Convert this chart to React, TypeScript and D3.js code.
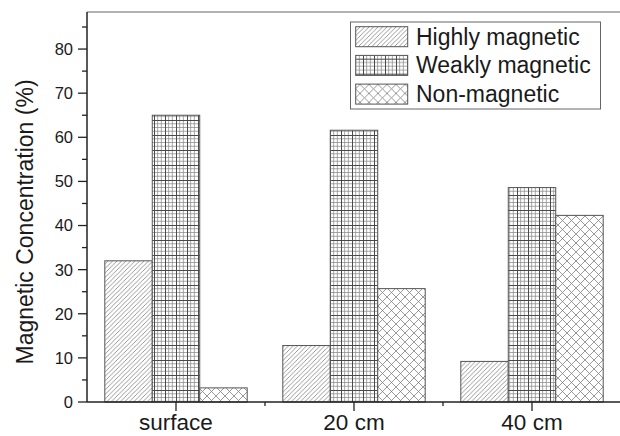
import React from "react";
import * as d3 from "d3";

const categories = ["surface", "20 cm", "40 cm"];
const seriesNames = ["Highly magnetic", "Weakly magnetic", "Non-magnetic"];
const highly = [32, 12.8, 9.2];
const weakly = [65, 61.6, 48.6];
const nonMag = [3.2, 25.7, 42.3];
const yTicks = [0, 10, 20, 30, 40, 50, 60, 70, 80];
const yMinorTicks = [5, 15, 25, 35, 45, 55, 65, 75, 85];
const patternIds = ["hatch", "grid", "cross"];

const W = 620;
const H = 436;
const FONT = "'Liberation Sans', Arial, Helvetica, sans-serif";

export default function App() {
  const left = 87;
  const right = 621;
  const top = 12;
  const bottom = 402;
  const x = d3.scaleBand<string>().domain(categories).range([left, right]).paddingInner(0.2).paddingOuter(0.1);
  const inner = d3.scaleBand<string>().domain(seriesNames).range([0, x.bandwidth()]).padding(0);
  const y = d3.scaleLinear().domain([0, 88.4]).range([bottom, top]);
  const series = [highly, weakly, nonMag];
  const step = x.step();

  return (
    <svg width={W} height={H} style={{ position: "absolute", left: 0, top: 0, background: "#fff" }} fontFamily={FONT}>
      <defs>
        <pattern id="hatch" patternUnits="userSpaceOnUse" width={4.5} height={4.5}>
          <rect width={4.5} height={4.5} fill="#fff" />
          <path d="M-1,1 L1,-1 M0,4.5 L4.5,0 M3.5,5.5 L5.5,3.5" stroke="#808080" strokeWidth={0.8} />
        </pattern>
        <pattern id="grid" patternUnits="userSpaceOnUse" width={11} height={15}>
          <rect width={11} height={15} fill="#fff" />
          <path d="M3.67,0 V15 M7.33,0 V15 M0,3.75 H11 M0,7.5 H11 M0,11.25 H11" stroke="#8a8a8a" strokeWidth={0.75} />
          <path d="M0.5,0 V15 M0,0.5 H11" stroke="#4a4a4a" strokeWidth={1} />
        </pattern>
        <pattern id="cross" patternUnits="userSpaceOnUse" width={9} height={9}>
          <rect width={9} height={9} fill="#fff" />
          <path d="M0,0 L9,9 M0,9 L9,0" stroke="#808080" strokeWidth={0.8} />
        </pattern>
      </defs>

      {/* top frame */}
      <line x1={left} x2={W} y1={top} y2={top} stroke="#666" strokeWidth={1.2} />

      {/* bars */}
      {categories.map((c, ci) => (
        <g key={c}>
          {seriesNames.map((s, si) => {
            const v = series[si][ci];
            const bx = (x(c) as number) + (inner(s) as number);
            return (
              <rect
                key={s}
                x={bx}
                y={y(v)}
                width={inner.bandwidth()}
                height={y(0) - y(v)}
                fill={`url(#${patternIds[si]})`}
                stroke="#555"
                strokeWidth={1}
              />
            );
          })}
        </g>
      ))}

      {/* y axis */}
      <line x1={left} x2={left} y1={top} y2={bottom} stroke="#222" strokeWidth={1.5} />
      {yTicks.map((t) => (
        <g key={t}>
          <line x1={left - 9} x2={left} y1={y(t)} y2={y(t)} stroke="#222" strokeWidth={1.3} />
          <text x={left - 14} y={y(t)} dy="0.36em" textAnchor="end" fontSize={16.5} fill="#1a1a1a">
            {t}
          </text>
        </g>
      ))}
      {yMinorTicks.map((t) => (
        <line key={t} x1={left - 5} x2={left} y1={y(t)} y2={y(t)} stroke="#222" strokeWidth={1.3} />
      ))}

      {/* x axis */}
      <line x1={left} x2={W} y1={bottom} y2={bottom} stroke="#222" strokeWidth={1.5} />
      {categories.map((c) => {
        const cx = (x(c) as number) + x.bandwidth() / 2;
        return (
          <g key={c}>
            <line x1={cx} x2={cx} y1={bottom} y2={bottom + 9} stroke="#222" strokeWidth={1.3} />
            <text x={cx} y={430} textAnchor="middle" fontSize={22.5} fill="#1a1a1a">
              {c}
            </text>
          </g>
        );
      })}
      {categories.slice(0, -1).map((c) => {
        const mx = (x(c) as number) + x.bandwidth() / 2 + step / 2;
        return <line key={c} x1={mx} x2={mx} y1={bottom} y2={bottom + 4} stroke="#222" strokeWidth={1.3} />;
      })}

      {/* y label */}
      <text transform="translate(33,222) rotate(-90)" textAnchor="middle" fontSize={23} fill="#1a1a1a">
        Magnetic Concentration (%)
      </text>

      {/* legend */}
      <rect x={350.5} y={22} width={250} height={87} fill="#fff" stroke="#666" strokeWidth={1} />
      {seriesNames.map((s, i) => (
        <g key={s} transform={`translate(0, ${i * 28.7})`}>
          <rect x={355.7} y={26.7} width={52} height={20} fill={`url(#${patternIds[i]})`} stroke="#555" strokeWidth={1} />
          <text x={416} y={44.5} fontSize={23} fill="#1a1a1a">
            {s}
          </text>
        </g>
      ))}
    </svg>
  );
}
